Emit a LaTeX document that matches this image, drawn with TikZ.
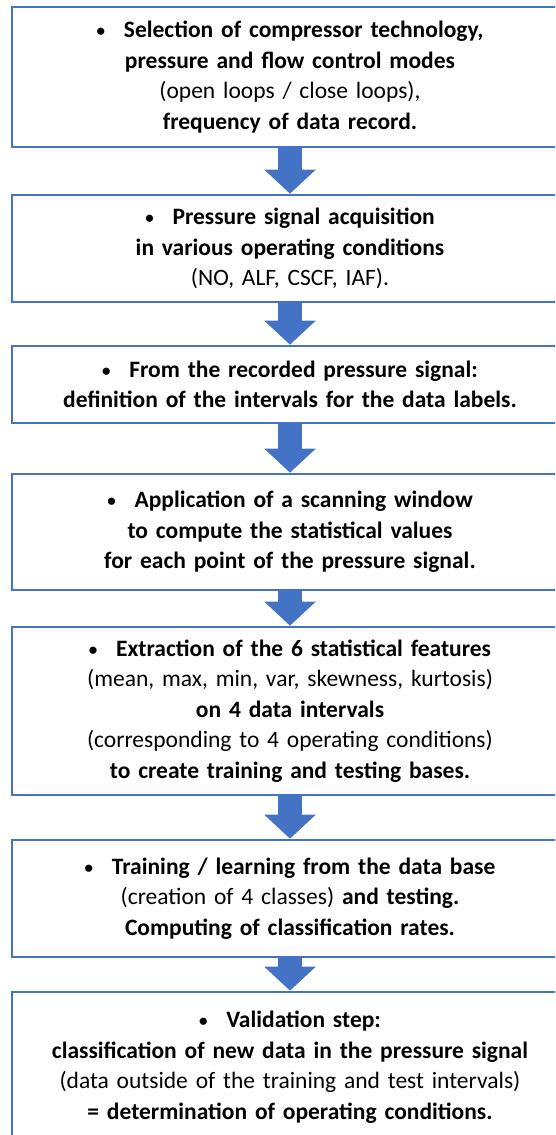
\documentclass[tikz,border=0pt]{standalone}
\usepackage{fontspec}
\setmainfont{Carlito}
\usetikzlibrary{arrows.meta}
\definecolor{boxblue}{HTML}{4472C4}
\newcommand{\stepbullet}{{\fontsize{17}{17}\selectfont\raisebox{1pt}{\textbullet}}\hspace{0.8em}}

\begin{document}
\begin{tikzpicture}[x=1pt, y=-1pt,
	stepbox/.style={draw=boxblue, line width=2.6pt, fill=white, minimum width=556pt,
		text width=550pt, align=center, inner sep=0pt,
		font=\fontsize{23.5}{30.5}\selectfont},
	downarrow/.style={boxblue, line width=24pt, -{Triangle[width=50pt, length=24pt]}}]
	\clip (0,0) rectangle (555,1135);

	% Steps
	\node[stepbox, minimum height=140pt] (s1) at (290,77)
		{\textbf{\stepbullet Selection of compressor technology,}\\
		 \textbf{pressure and flow control modes}\\
		 (open loops / close loops),\\
		 \textbf{frequency of data record.}};
	\node[stepbox, minimum height=107pt] (s2) at (290,248.5)
		{\textbf{\stepbullet Pressure signal acquisition}\\
		 \textbf{in various operating conditions}\\
		 (NO, ALF, CSCF, IAF).};
	\node[stepbox, minimum height=77pt] (s3) at (290,384.5)
		{\textbf{\stepbullet From the recorded pressure signal:}\\
		 \textbf{definition of the intervals for the data labels.}};
	\node[stepbox, minimum height=116pt] (s4) at (290,532)
		{\textbf{\stepbullet Application of a scanning window}\\
		 \textbf{to compute the statistical values}\\
		 \textbf{for each point of the pressure signal.}};
	\node[stepbox, minimum height=168pt] (s5) at (290,711)
		{\textbf{\stepbullet Extraction of the 6 statistical features}\\
		 (mean, max, min, var, skewness, kurtosis)\\
		 \textbf{on 4 data intervals}\\
		 (corresponding to 4 operating conditions)\\
		 \textbf{to create training and testing bases.}};
	\node[stepbox, minimum height=117pt] (s6) at (290,898.5)
		{\textbf{\stepbullet Training / learning from the data base}\\
		 (creation of 4 classes) \textbf{and testing.}\\
		 \textbf{Computing of classification rates.}};
	\node[stepbox, minimum height=150pt] (s7) at (290,1067)
		{\textbf{\stepbullet Validation step:}\\
		 \textbf{classification of new data in the pressure signal}\\
		 (data outside of the training and test intervals)\\
		 \textbf{= determination of operating conditions.}};

	% Arrows
	\foreach \a/\b in {s1/s2, s2/s3, s3/s4, s4/s5, s5/s6, s6/s7}
		\draw[downarrow] (\a.south) -- (\b.north);
\end{tikzpicture}
\end{document}
